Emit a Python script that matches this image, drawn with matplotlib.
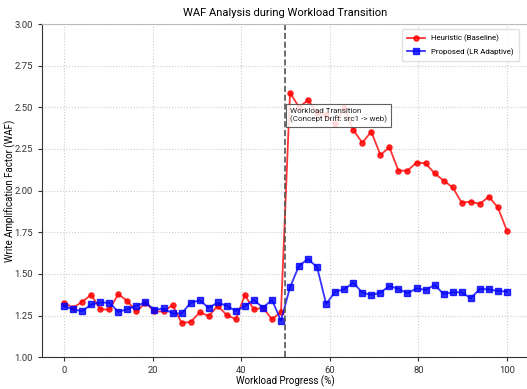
import numpy as np
import matplotlib
matplotlib.use("Agg")
import matplotlib.pyplot as plt

plt.rcParams['font.family'] = ['Roboto', 'DejaVu Sans']

progress = np.linspace(0, 100, 50)
heuristic = [1.327, 1.298, 1.333, 1.376, 1.287, 1.287, 1.379, 1.337, 1.275, 1.327,
             1.275, 1.275, 1.313, 1.206, 1.212, 1.269, 1.248, 1.308, 1.254, 1.228,
             1.373, 1.287, 1.298, 1.228, 1.271,
             2.588, 2.50, 2.544, 2.465, 2.454, 2.399, 2.495, 2.364, 2.288, 2.354,
             2.214, 2.26, 2.12, 2.12, 2.168, 2.164, 2.104, 2.06, 2.02, 1.928,
             1.934, 1.92, 1.964, 1.90, 1.76]
proposed = [1.307, 1.287, 1.277, 1.317, 1.329, 1.327, 1.273, 1.289, 1.309, 1.329,
            1.285, 1.293, 1.263, 1.263, 1.327, 1.342, 1.297, 1.329, 1.309, 1.278,
            1.308, 1.345, 1.297, 1.345, 1.219,
            1.42, 1.55, 1.59, 1.54, 1.32, 1.394, 1.408, 1.448, 1.388, 1.374,
            1.388, 1.428, 1.41, 1.384, 1.414, 1.404, 1.434, 1.38, 1.39, 1.39,
            1.354, 1.41, 1.408, 1.398, 1.394]
transition_point = 50
xticks = [0, 20, 40, 60, 80, 100]
yticks = [1.00, 1.25, 1.50, 1.75, 2.00, 2.25, 2.50, 2.75, 3.00]

fig = plt.figure(figsize=(5.27, 3.89), dpi=100)
ax = fig.add_axes([42/527, (389-357.3)/389, 487/527, 333.3/389])

ax.plot(progress, heuristic, '-o', color='#ff0000', alpha=0.8, lw=1.3, ms=3.7,
        label='Heuristic (Baseline)')
ax.plot(progress, proposed, '-s', color='#0000ff', alpha=0.8, lw=1.3, ms=3.7,
        label='Proposed (LR Adaptive)')
ax.axvline(transition_point, color='#555555', ls='--', lw=1.2)

ax.text(51, 2.452, 'Workload Transition\n(Concept Drift: src1 -> web)', fontsize=5.8,
        va='center', ha='left', color='#222222', linespacing=1.25,
        bbox=dict(boxstyle='square,pad=0.5', facecolor='white', edgecolor='#444444',
                  alpha=0.85, lw=0.8))

ax.set_xlim(-5, 105)
ax.set_ylim(1.0, 3.0)
ax.set_xticks(xticks)
ax.set_yticks(yticks)
ax.tick_params(labelsize=6.8, colors='#333333', length=3)
ax.grid(True, ls=':', color='#cccccc', lw=0.8)
ax.set_axisbelow(True)

for s in ['left', 'bottom']:
    ax.spines[s].set_color('#333333')
for s in ['top', 'right']:
    ax.spines[s].set_color('#bbbbbb')

ax.set_title('WAF Analysis during Workload Transition', fontsize=8, pad=5.5)
ax.set_xlabel('Workload Progress (%)', fontsize=7)
ax.set_ylabel('Write Amplification Factor (WAF)', fontsize=7)
ax.xaxis.set_label_coords((285 - 42) / 487, -(381 - 357.3) / 333.3)
ax.yaxis.set_label_coords(-(42 - 10) / 487, 0.5)
ax.xaxis.label.set_va('center')
ax.yaxis.label.set_va('center')

ax.legend(loc='upper right', fontsize=5.7, frameon=True, framealpha=0.9,
          edgecolor='#dddddd', bbox_to_anchor=(0.988, 0.997), borderpad=0.7,
          labelspacing=0.75, handlelength=2.2)

fig.savefig('out.png', dpi=100)
